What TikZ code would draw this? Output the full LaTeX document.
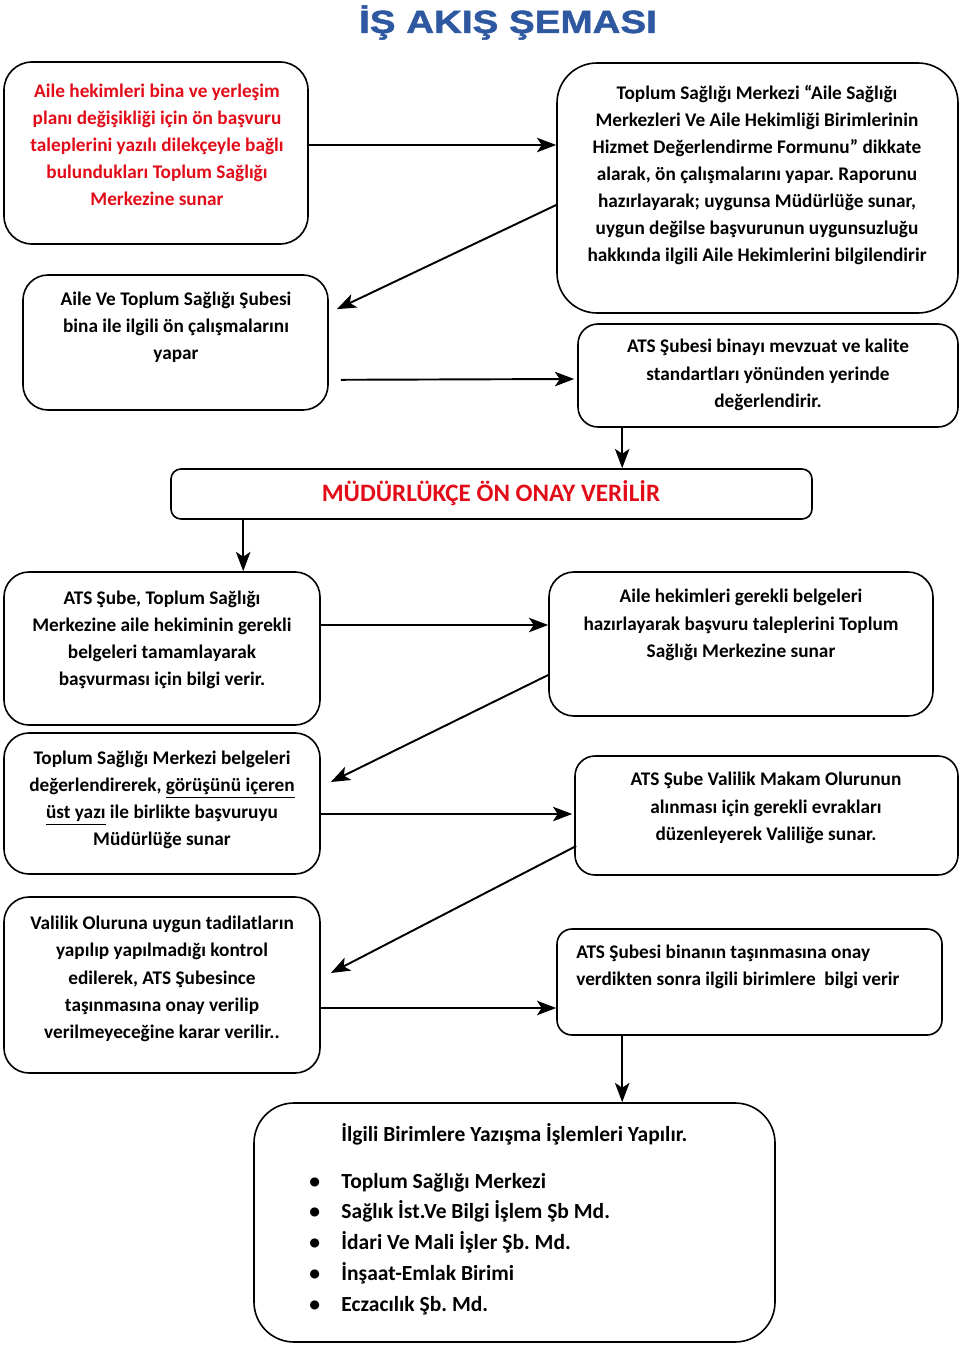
\documentclass[tikz,border=0pt]{standalone}
\usepackage{fontspec}
\setmainfont{Carlito}
\newfontfamily\titlefont{Liberation Sans}[FakeStretch=1.2,BoldFeatures={FakeBold=1.5}]
\usepackage{xcolor}
\usetikzlibrary{calc,arrows.meta}
\definecolor{titleblue}{RGB}{46,88,160}
\definecolor{hred}{RGB}{226,12,24}
\newcommand{\pxu}{0.021875cm}
\frenchspacing

\begin{document}
\begin{tikzpicture}[x=\pxu,y=-\pxu]
  \tikzset{ box/.style n args={3}{draw,line width=1pt,rounded corners=#3*\pxu,minimum width=#1*\pxu,minimum height=#2*\pxu,inner sep=0pt},
    txt/.style={font=\bfseries\fontsize{12}{16.9}\selectfont,align=center,inner sep=0pt},
    arr/.style={-{Stealth[length=12pt,width=9pt,inset=3pt]},line width=1.2pt},
  }
  \useasboundingbox (0,0) rectangle (960,1347);

  \node[font=\titlefont\bfseries\fontsize{20}{24}\selectfont,text=titleblue,anchor=base] (title) at (508,33) {İŞ AKIŞ ŞEMASI};

  \node[box={304}{182}{28}] (b1) at (156,153) {};
  \node[box={401}{250}{40}] (b2) at (757.5,188) {};
  \node[box={305}{135}{25}] (b3) at (175.5,342.5) {};
  \node[box={380}{103}{20}] (b4) at (768,375.5) {};
  \node[box={641}{50}{10}] (b5) at (491.5,494) {};
  \node[box={316}{153}{25}] (b6) at (162,648.5) {};
  \node[box={384}{144}{25}] (b7) at (741,644) {};
  \node[box={316}{141}{25}] (b8) at (162,803.5) {};
  \node[box={383}{119}{20}] (b9) at (766.5,815.5) {};
  \node[box={316}{176}{25}] (b10) at (162,985) {};
  \node[box={385}{106}{15}] (b11) at (749.5,982) {};
  \node[box={521}{239}{40}] (b12) at (514.5,1222.5) {};

  \node[txt,text=hred] (t1) at (157,145) {Aile hekimleri bina ve yerleşim\\planı değişikliği için ön başvuru\\taleplerini yazılı dilekçeyle bağlı\\bulundukları Toplum Sağlığı\\Merkezine sunar};
  \node[txt] (t2) at (757,175) {Toplum Sağlığı Merkezi “Aile Sağlığı\\Merkezleri Ve Aile Hekimliği Birimlerinin\\Hizmet Değerlendirme Formunu” dikkate\\alarak, ön çalışmalarını yapar. Raporunu\\hazırlayarak; uygunsa Müdürlüğe sunar,\\uygun değilse başvurunun uygunsuzluğu\\hakkında ilgili Aile Hekimlerini bilgilendirir};
  \node[txt] (t3) at (176,327) {Aile Ve Toplum Sağlığı Şubesi\\bina ile ilgili ön çalışmalarını\\yapar};
  \node[txt] (t4) at (768,375) {ATS Şubesi binayı mevzuat ve kalite\\standartları yönünden yerinde\\değerlendirir.};
  \node[txt,text=hred,font=\bfseries\fontsize{15.6}{18}\selectfont] (t5) at (491,493) {MÜDÜRLÜKÇE ÖN ONAY VERİLİR};
  \node[txt] (t6) at (162,640) {ATS Şube, Toplum Sağlığı\\Merkezine aile hekiminin gerekli\\belgeleri tamamlayarak\\başvurması için bilgi verir.};
  \node[txt] (t7) at (741,625) {Aile hekimleri gerekli belgeleri\\hazırlayarak başvuru taleplerini Toplum\\Sağlığı Merkezine sunar};
  \node[txt] (t8) at (162,800) {Toplum Sağlığı Merkezi belgeleri\\değerlendirerek, \underline{görüşünü içeren}\\\underline{üst yazı} ile birlikte başvuruyu\\Müdürlüğe sunar};
  \node[txt] (t9) at (766,808) {ATS Şube Valilik Makam Olurunun\\alınması için gerekli evrakları\\düzenleyerek Valiliğe sunar.};
  \node[txt] (t10) at (162,979) {Valilik Oluruna uygun tadilatların\\yapılıp yapılmadığı kontrol\\edilerek, ATS Şubesince\\taşınmasına onay verilip\\verilmeyeceğine karar verilir..};
  \node[txt,align=left,anchor=west] (t11) at (576,967) {ATS Şubesi binanın taşınmasına onay\\verdikten sonra ilgili birimlere\ \ bilgi verir};
  \node[txt,align=left,anchor=west,font=\bfseries\fontsize{13.4}{16}\selectfont] (t12) at (341,1134) {İlgili Birimlere Yazışma İşlemleri Yapılır.};
  \node[txt,align=left,anchor=west,font=\bfseries\fontsize{13.4}{19.2}\selectfont] (list) at (309,1244) {\makebox[20pt][l]{\textbullet}Toplum Sağlığı Merkezi\\\makebox[20pt][l]{\textbullet}Sağlık İst.Ve Bilgi İşlem Şb Md.\\\makebox[20pt][l]{\textbullet}İdari Ve Mali İşler Şb. Md.\\\makebox[20pt][l]{\textbullet}İnşaat-Emlak Birimi\\\makebox[20pt][l]{\textbullet}Eczacılık Şb. Md.};

  \draw[arr] (b1.east |- t1) -- (b2.west |- t1);
  \draw[arr] ($(b2.west)+(0,17)$) -- ($(b3.north east)+(8,35)$);
  \draw[arr] ($(b3.south east)+(12,-31)$) -- ($(b4.west)+(-3,3.5)$);
  \draw[arr] ($(b4.south west)+(45,0)$) -- ($(b5.north west)+(452,0)$);
  \draw[arr] ($(b5.south west)+(73,0)$) -- ($(b6.north west)+(240,0)$);
  \draw[arr] ($(b6.east)+(0,-23.5)$) -- ($(b7.west)+(0,-19)$);
  \draw[arr] ($(b7.west)+(0,31)$) -- ($(b8.east)+(10,-21.5)$);
  \draw[arr] ($(b8.east)+(0,10.5)$) -- ($(b9.west)+(-2,-1.5)$);
  \draw[arr] ($(b9.west)+(2,30.5)$) -- ($(b10.east)+(10,-12)$);
  \draw[arr] ($(b10.east)+(0,23)$) -- ($(b11.west)+(0,26)$);
  \draw[arr] ($(b11.south west)+(66,0)$) -- ($(b12.north west)+(369,0)$);
\end{tikzpicture}
\end{document}
